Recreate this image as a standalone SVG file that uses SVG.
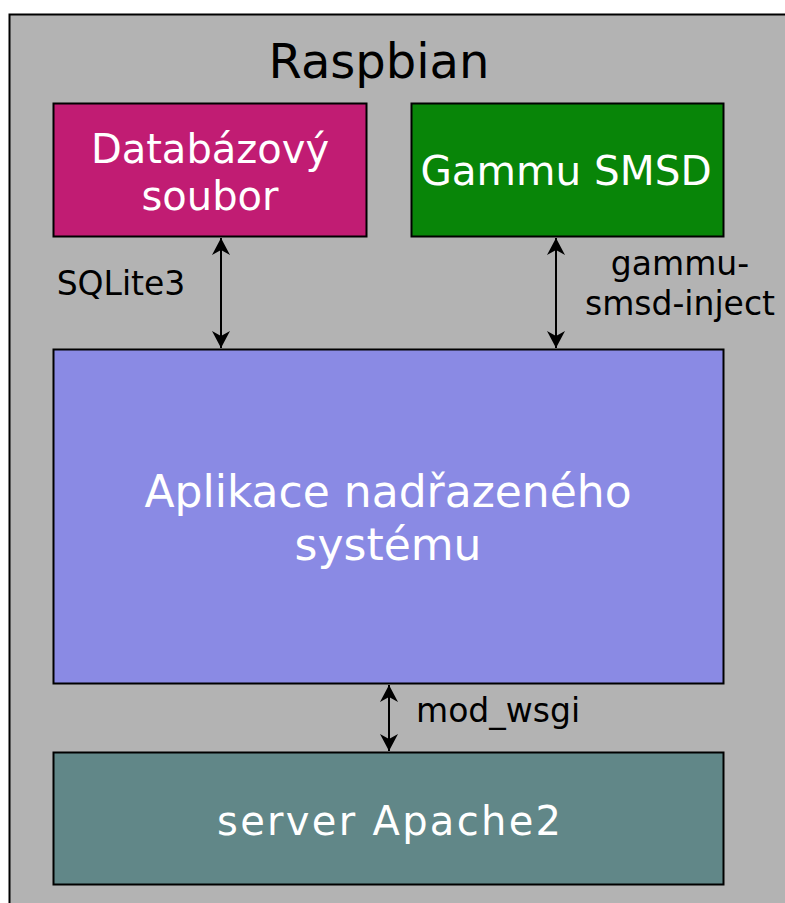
<svg xmlns="http://www.w3.org/2000/svg" width="785" height="903" viewBox="0 0 785 903">
<style>
.box{stroke:#000;stroke-width:2}
.wt{fill:#fff;font-family:"DejaVu Sans",Verdana,sans-serif;text-anchor:middle}
.bt{fill:#000;font-family:"DejaVu Sans",Verdana,sans-serif}
.con{stroke:#000;stroke-width:2;fill:none}
</style>
<defs>
<marker id="ah" viewBox="0 0 18 18" refX="17" refY="9" markerWidth="18" markerHeight="18" markerUnits="userSpaceOnUse" orient="auto-start-reverse">
<path d="M17,9 L0,0 L5,9 L0,18 Z" fill="#000"/>
</marker>
</defs>
<rect width="785" height="903" fill="#fff"/>
<g id="raspbian">
<rect x="9.5" y="14.5" width="790" height="900" fill="#b3b3b3" class="box"/>
<text x="379" y="78" class="bt" font-size="48" text-anchor="middle">Raspbian</text>
</g>
<g id="databaze">
<rect x="53.5" y="103.5" width="313" height="133" fill="#c11c73" class="box"/>
<text class="wt" font-size="40" x="210" y="163">Databázový</text>
<text class="wt" font-size="40" x="210" y="210">soubor</text>
</g>
<g id="gammu">
<rect x="411.5" y="103.5" width="312" height="133" fill="#088508" class="box"/>
<text class="wt" font-size="40.5" x="566" y="185">Gammu SMSD</text>
</g>
<g id="aplikace">
<rect x="53.5" y="349.5" width="670" height="334" fill="#8a8ae4" class="box"/>
<text class="wt" font-size="44" x="388" y="507">Aplikace nadřazeného</text>
<text class="wt" font-size="44" x="388" y="560">systému</text>
</g>
<g id="apache">
<rect x="53.5" y="752.5" width="670" height="132" fill="#618788" class="box"/>
<text class="wt" font-size="40" x="389" y="835" textLength="344" lengthAdjust="spacing">server Apache2</text>
</g>
<g id="connectors">
<line x1="221" y1="238" x2="221" y2="348" class="con" marker-start="url(#ah)" marker-end="url(#ah)"/>
<line x1="556" y1="238" x2="556" y2="348" class="con" marker-start="url(#ah)" marker-end="url(#ah)"/>
<line x1="389" y1="685" x2="389" y2="751" class="con" marker-start="url(#ah)" marker-end="url(#ah)"/>
<text class="bt" font-size="33" x="121" y="295" text-anchor="middle">SQLite3</text>
<text class="bt" font-size="33" x="680" y="275" text-anchor="middle">gammu-</text>
<text class="bt" font-size="33" x="680" y="315" text-anchor="middle">smsd-inject</text>
<text class="bt" font-size="33" x="416" y="722">mod_wsgi</text>
</g>
</svg>
